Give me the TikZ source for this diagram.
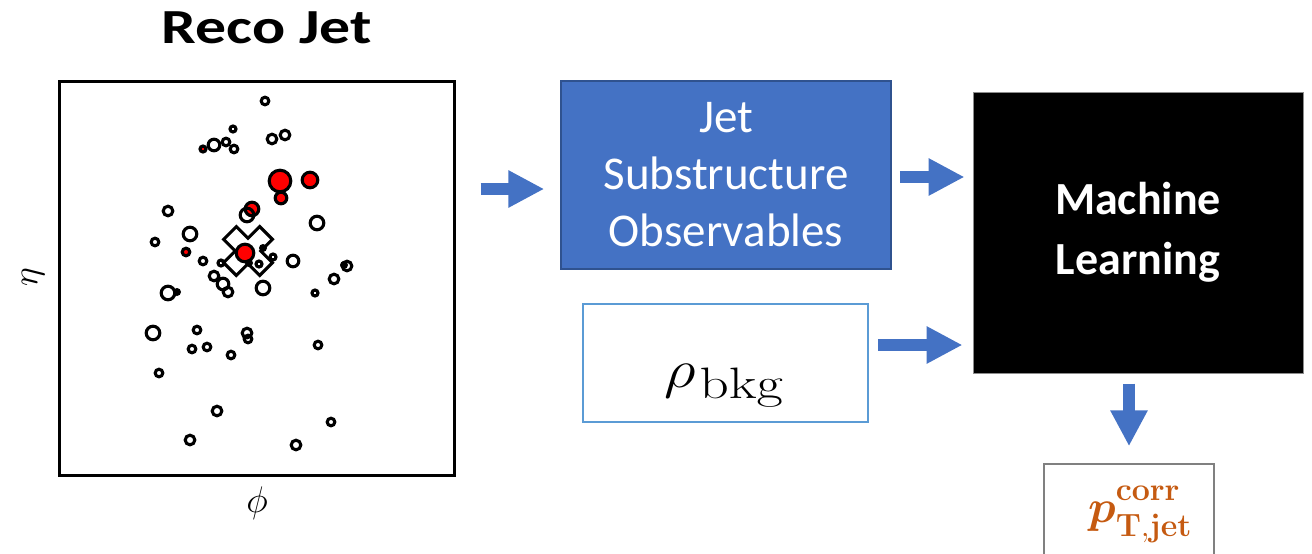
\documentclass[tikz,border=0pt]{standalone}
\usepackage{fix-cm}
\usepackage[no-math]{fontspec}
\setmainfont{Carlito}
\usepackage{amsmath}
\usepackage{xcolor}
\usetikzlibrary{
    arrows.meta,
    calc,
    positioning
}
\definecolor{boxblue}{HTML}{4472C4}
\definecolor{boxedge}{HTML}{2F528F}
\definecolor{lightedge}{HTML}{5B9BD5}
\definecolor{corrorange}{HTML}{C55A11}
\tikzset{
    trk/.style={draw=black, line width=3.1pt},
    blockarrow/.style={draw=boxblue, line width=12pt, -{Triangle[length=36pt,width=35pt]}}
}

\begin{document}
\begin{tikzpicture}[x=1pt, y=-1pt]
                        \useasboundingbox (0, 0) rectangle (1312, 554);
                        \node[draw, line width=3pt, minimum width=395pt, minimum height=394pt] (plot) at (256.5, 278) {};
                        \node[anchor=base, font=\bfseries\fontsize{49}{49}\selectfont] (title) at (267, 43) {\scalebox{1.26}[1]{Reco Jet}};
                        \node[rotate=90, font=\fontsize{36}{36}\selectfont] (etalabel) at (33, 277) {$\eta$};
                        \node[font=\fontsize{37}{37}\selectfont] (philabel) at (257, 503) {$\phi$};
                        \begin{scope}[shift={(248, 251)}, rotate=45]
                            \draw[trk]
                            (9, 9) -- (25.5, 9) -- (25.5, -9) -- (9, -9) -- (9, -25.5) -- (-9, -25.5) -- (-9, -9)
                            -- (-25.5, -9) -- (-25.5, 9) -- (-9, 9) -- (-9, 25.5) -- (9, 25.5) -- cycle;
                        \end{scope}
                        \foreach \x/\y/\r in {265/101/3.8, 233/129/3, 272/139/4.8, 285/135/4.8, 214/145/5.8, 226/142/3.8, 234/149/3.8,
                            168/211/4.8, 317/223/6.8, 190/234/6.8, 155/242/3.8, 273/257/3, 203/261/3.8, 221/263/3, 259/264/3,
                            293/261/5.8, 347/266/4.8, 334/279/4.8, 214/276/4.8, 223/284/5.8, 228/292/4.8, 168/293/6.8, 263/288/6.8,
                            315/293/3, 153/333/6.8, 197/330/3.8, 247/333/4.8, 248/339/3.8, 192/349/3.8, 207/347/3.8, 231/355/3.8,
                            318/345/3.8, 159/373/3.8, 217/411/4.8, 331/422/3.8, 190/440/4.8, 296/445/4.8} {
                            \draw[trk] (\x, \y) circle (\r pt);
                        }
                        \foreach \x/\y/\r in {203/149/3, 281/198/5.8, 280/181/10.8, 310/180/7.8, 252/209/6.8, 186/252/3.8, 245/253/8.8} {
                            \draw[trk, fill=red] (\x, \y) circle (\r pt);
                        }
                        \draw[trk] (247, 215) circle (6.8pt);
                        \foreach \x/\y in {263/248, 249/263, 344/265, 177/292} {
                            \fill (\x, \y) circle (4pt);
                        }
                        \node[fill=boxblue, draw=boxedge, line width=1.5pt, minimum width=330pt, minimum height=188pt,
                            text=white, align=center, font=\fontsize{47}{57}\selectfont] (jss) at (726, 175)
                            {Jet\\Substructure\\Observables};
                        \node[fill=black, draw=black!45, line width=1pt, minimum width=330pt, minimum height=281pt,
                            text=white, align=center, font=\bfseries\fontsize{46}{60}\selectfont] (ml) at (1138, 232.5)
                            {Machine\\Learning};
                        \node[draw=lightedge, line width=1.5pt, minimum width=285pt, minimum height=118pt] (rho) at (725.5, 363) {};
                        \node[anchor=base, font=\fontsize{54}{54}\selectfont] (rholabel) at ($(rho.center) + (-1.5, 24)$)
                            {\scalebox{1.15}[1]{$\rho$}\hspace{4pt}\raisebox{-11pt}{\scalebox{1.3}[1]{\fontsize{44}{44}\selectfont$\mathrm{bkg}$}}};
                        \node[draw=black!50, line width=1.5pt, minimum width=170pt, minimum height=116pt] (pt) at (1129, 522) {};
                        \node[anchor=base, text=corrorange, font=\fontsize{46}{46}\selectfont] (ptlabel) at (1140, 522)
                            {$\boldsymbol{p}^{\raisebox{5pt}{$\scriptstyle\mathbf{corr}$}}_{\raisebox{-3pt}{$\scriptstyle\mathbf{T,jet}$}}$};
                        \draw[blockarrow, shorten <=25pt, shorten >=16pt] (plot.east |- 0,189) -- (jss.west |- 0,189);
                        \draw[blockarrow, shorten <=8pt, shorten >=8pt] (jss.east |- 0,177) -- (ml.west |- 0,177);
                        \draw[blockarrow, shorten <=9pt, shorten >=10pt] (rho.east |- 0,345) -- (ml.west |- 0,345);
                        \draw[blockarrow, shorten <=10pt, shorten >=17pt] (ml.south -| 1129,0) -- (pt.north -| 1129,0);
                    \end{tikzpicture}
\end{document}
